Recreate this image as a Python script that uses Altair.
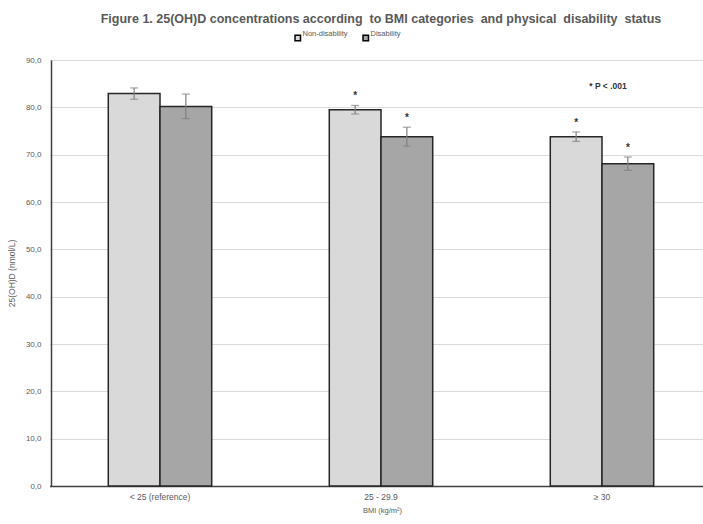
import altair as alt
import pandas as pd

# BMI groups and mean 25(OH)D (nmol/L) with standard errors
categories = ["< 25 (reference)", "25 - 29.9", "\u2265 30"]
status_labels = ["Non-disability", "Disability"]
non_disability = [82.9, 79.5, 73.8]
disability = [80.2, 73.8, 68.1]
non_disability_err = [1.2, 0.9, 1.0]
disability_err = [2.6, 2.0, 1.4]
non_disability_sig = [False, True, True]
disability_sig = [False, True, True]

rows = []
for i, cat in enumerate(categories):
    rows.append(dict(bmi=cat, status=status_labels[0], value=non_disability[i],
                     err=non_disability_err[i], sig=non_disability_sig[i]))
    rows.append(dict(bmi=cat, status=status_labels[1], value=disability[i],
                     err=disability_err[i], sig=disability_sig[i]))
df = pd.DataFrame(rows)
df["lo"] = df["value"] - df["err"]
df["hi"] = df["value"] + df["err"]

note = pd.DataFrame({"bmi": [categories[2]], "y": [84.6], "label": ["* P < .001"]})

FONT = "Liberation Sans"
GRAY = "#595959"

x_enc = alt.X("bmi:N", sort=categories,
              scale=alt.Scale(range=[-1.5, 661.5], paddingInner=0.532, paddingOuter=0.266),
              axis=alt.Axis(title="BMI (kg/m\u00b2)", labelAngle=0, ticks=False,
                            labelFontSize=8.5, labelPadding=6, titlePadding=6, titleX=331,
                            titleFontSize=7.5,
                            domainColor="#404040", domainWidth=1.5))
off_enc = alt.XOffset("status:N", sort=status_labels,
                      scale=alt.Scale(paddingInner=0, paddingOuter=0))
y_scale = alt.Scale(domain=[0, 90], nice=False)

base = alt.Chart(df)

bars = base.mark_bar(stroke="#262626", strokeWidth=1.5).encode(
    x=x_enc,
    xOffset=off_enc,
    y=alt.Y("value:Q", scale=y_scale,
            axis=alt.Axis(title="25(OH)D (nmol/L)", values=list(range(0, 91, 10)),
                          labelExpr="replace(format(datum.value, '.1f'), '.', ',')",
                          labelFontSize=8, ticks=False, labelPadding=10, titlePadding=9,
                          titleFontSize=8.5,
                          gridColor="#d9d9d9", gridWidth=1,
                          domainColor="#404040", domainWidth=1.5)),
    color=alt.Color("status:N", sort=status_labels,
                    scale=alt.Scale(domain=status_labels, range=["#d9d9d9", "#a6a6a6"]),
                    legend=alt.Legend(title=None, orient="none", direction="horizontal",
                                      legendX=243, legendY=-26, symbolType="square",
                                      symbolSize=30, symbolStrokeColor="#000000",
                                      symbolStrokeWidth=1.5, labelFontSize=7.5,
                                      labelColor=GRAY, labelFont=FONT, labelOffset=1,
                                      columnPadding=12, labelBaseline="bottom")),
)

err_rule = base.mark_rule(color="#7f7f7f", strokeWidth=1.2).encode(
    x=x_enc, xOffset=off_enc, y=alt.Y("lo:Q", scale=y_scale), y2="hi:Q")
cap_lo = base.mark_tick(color="#7f7f7f", thickness=1.2, size=8, orient="horizontal").encode(
    x=x_enc, xOffset=off_enc, y=alt.Y("lo:Q", scale=y_scale))
cap_hi = base.mark_tick(color="#7f7f7f", thickness=1.2, size=8, orient="horizontal").encode(
    x=x_enc, xOffset=off_enc, y=alt.Y("hi:Q", scale=y_scale))

stars = base.transform_filter("datum.sig").mark_text(
    text="*", font=FONT, fontSize=10, fontWeight="bold", color="#333333",
    baseline="middle", dy=-9).encode(
    x=x_enc, xOffset=off_enc, y=alt.Y("hi:Q", scale=y_scale))

note_text = alt.Chart(note).mark_text(
    font=FONT, fontSize=8.5, fontWeight="bold", color="#333333", dx=6).encode(
    x=alt.X("bmi:N", sort=categories,
            scale=alt.Scale(range=[-1.5, 661.5], paddingInner=0.532, paddingOuter=0.266)),
    y=alt.Y("y:Q", scale=y_scale), text="label:N")

chart = alt.layer(bars, err_rule, cap_lo, cap_hi, stars, note_text).properties(
    width=652, height=426,
    title=alt.TitleParams(
        "Figure 1. 25(OH)D concentrations according \u00a0to BMI categories \u00a0and physical \u00a0disability \u00a0status",
        font=FONT, fontSize=12.5, fontWeight="bold", color=GRAY, anchor="middle",
        offset=9, dx=4),
    autosize=alt.AutoSizeParams(type="none"),
    padding={"left": 51, "top": 60, "right": 0, "bottom": 38},
).configure_axis(
    labelFont=FONT, titleFont=FONT,
    labelColor=GRAY, titleColor=GRAY, titleFontWeight="normal",
).configure_view(stroke=None)

chart.save("out.html", embed_options={"renderer": "svg", "actions": False})
